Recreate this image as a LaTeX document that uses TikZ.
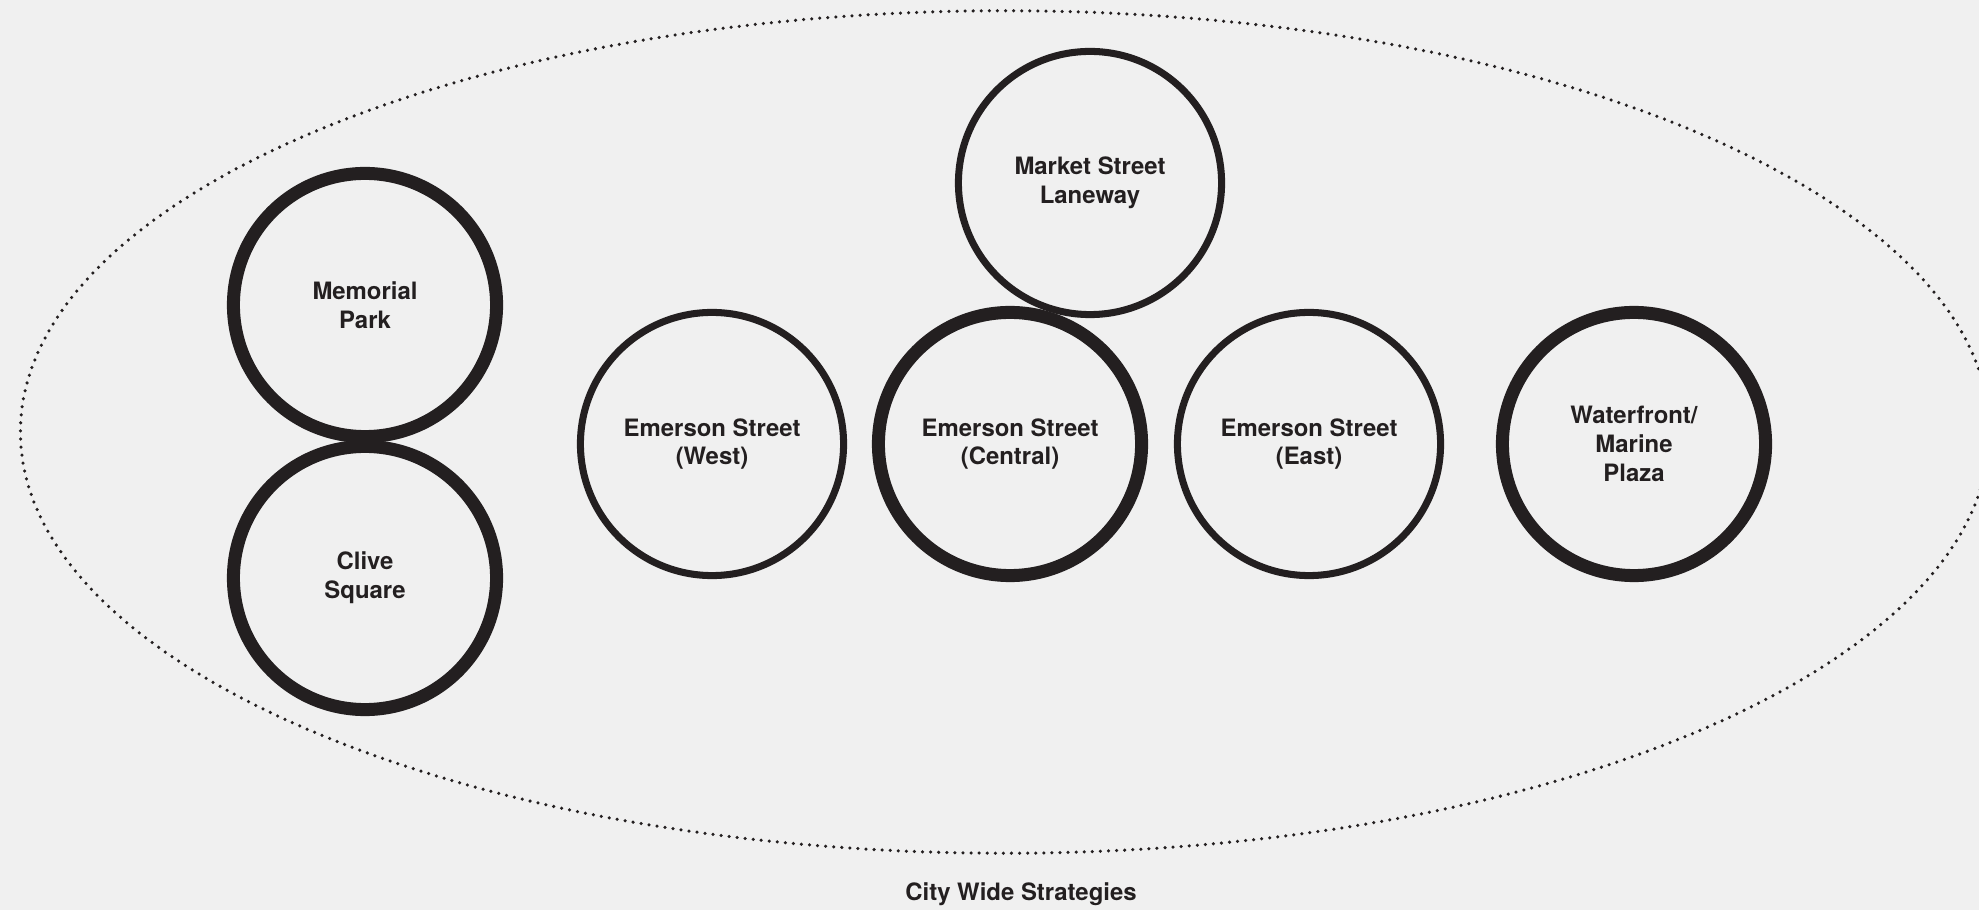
\documentclass[tikz,border=0pt]{standalone}
\usepackage{fontspec}
\setmainfont{TeX Gyre Heros}
\usepackage{tikz}
\usetikzlibrary{shapes}
\definecolor{ink}{HTML}{231F20}
\definecolor{paper}{HTML}{F0F0F0}

\begin{document}
\begin{tikzpicture}[
    x=0.01cm, y=-0.01cm,
    site/.style={draw=ink, circle, minimum size=2.63cm, inner sep=0pt, text=ink, align=center,
        font=\fontsize{6.8}{8.2}\selectfont\bfseries},
    major/.style={site, line width=3.7pt},
    minor/.style={site, line width=2pt},
    boundary/.style={draw=ink, line width=1pt, line cap=round, dash pattern=on 0pt off 2.3pt}
]

% Page
\fill[paper] (0,0) rectangle (1979,910);
\useasboundingbox (0,0) rectangle (1979,910);
\clip (0,0) rectangle (1979,910);

% Boundary
\draw[boundary] (1005,432) ellipse [x radius=9.84cm, y radius=4.21cm];
\node[text=ink, font=\fontsize{6.8}{8.2}\selectfont\bfseries] (city) at (1021,894) {City Wide Strategies};

% Sites
\node[major] (memorial) at (365,305) {Memorial\\Park};
\node[major] (clive) at (365,578) {Clive\\Square};
\node[minor] (west) at (712,444) {Emerson Street\\(West)};
\node[major] (central) at (1010,444) {Emerson Street\\(Central)};
\node[minor] (east) at (1309,444) {Emerson Street\\(East)};
\node[minor] (market) at (1090,183) {Market Street\\Laneway};
\node[major] (waterfront) at (1634,444) {Waterfront/\\Marine\\Plaza};

\end{tikzpicture}
\end{document}
